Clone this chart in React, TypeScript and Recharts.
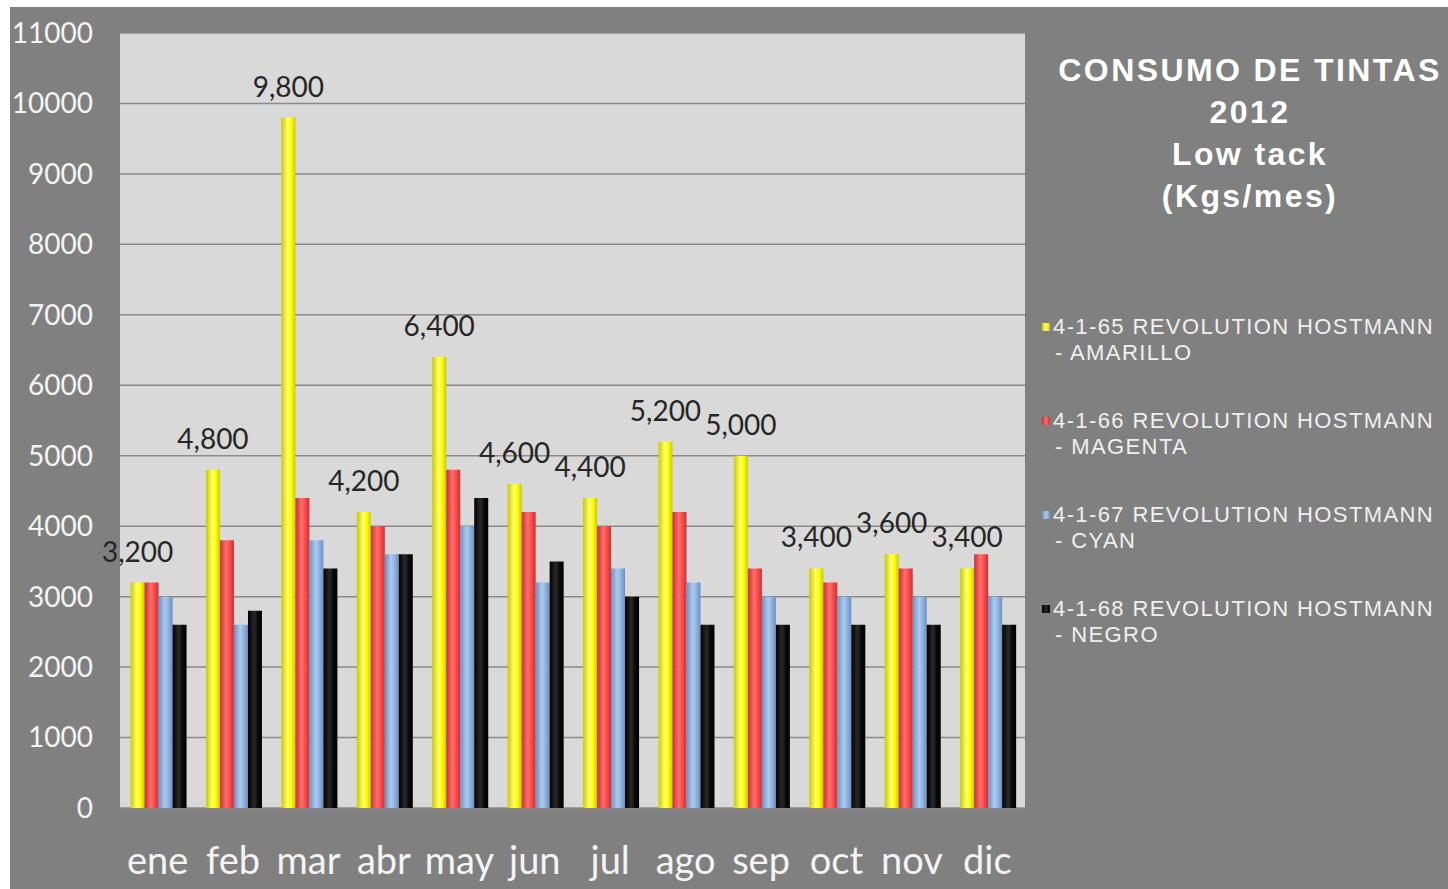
import { BarChart, Bar, XAxis, YAxis, CartesianGrid, LabelList } from 'recharts';

const months = ['ene', 'feb', 'mar', 'abr', 'may', 'jun', 'jul', 'ago', 'sep', 'oct', 'nov', 'dic'];
const amarillo = [3200, 4800, 9800, 4200, 6400, 4600, 4400, 5200, 5000, 3400, 3600, 3400];
const magenta = [3200, 3800, 4400, 4000, 4800, 4200, 4000, 4200, 3400, 3200, 3400, 3600];
const cyan = [3000, 2600, 3800, 3600, 4000, 3200, 3400, 3200, 3000, 3000, 3000, 3000];
const negro = [2600, 2800, 3400, 3600, 4400, 3500, 3000, 2600, 2600, 2600, 2600, 2600];
const yTicks = [0, 1000, 2000, 3000, 4000, 5000, 6000, 7000, 8000, 9000, 10000, 11000];

const titleLines = ['CONSUMO DE TINTAS', '2012', 'Low tack', '(Kgs/mes)'];

const series = [
  { key: 'amarillo', code: '4-1-65 REVOLUTION HOSTMANN', name: '- AMARILLO', edge: '#c9c900', mid: '#ffff00', hi: '#ffff66' },
  { key: 'magenta', code: '4-1-66 REVOLUTION HOSTMANN', name: '- MAGENTA', edge: '#c83232', mid: '#ff4848', hi: '#ff6e6e' },
  { key: 'cyan', code: '4-1-67 REVOLUTION HOSTMANN', name: '- CYAN', edge: '#6a90c0', mid: '#8db4e2', hi: '#aecaee' },
  { key: 'negro', code: '4-1-68 REVOLUTION HOSTMANN', name: '- NEGRO', edge: '#000000', mid: '#0a0a0a', hi: '#2a2a2a' },
];

const data = months.map((m, i) => ({
  month: m,
  amarillo: amarillo[i],
  magenta: magenta[i],
  cyan: cyan[i],
  negro: negro[i],
}));

const fmt = (v: number) => v.toLocaleString('en-US');

function SideLegend() {
  return (
    <div
      style={{
        position: 'absolute',
        left: 1032,
        top: 307,
        fontFamily: 'Liberation Sans',
        fontSize: 22,
        letterSpacing: 1.4,
        color: '#f0f0f0',
      }}
    >
      {series.map((s) => (
        <div key={s.key} style={{ height: 94, position: 'relative' }}>
          <div
            style={{
              position: 'absolute',
              left: 0,
              top: 9,
              width: 8,
              height: 8,
              background: `linear-gradient(90deg, ${s.edge}, ${s.hi}, ${s.edge})`,
            }}
          />
          <div style={{ paddingLeft: 11, lineHeight: '26px', whiteSpace: 'nowrap' }}>
            <div>{s.code}</div>
            <div style={{ paddingLeft: 2 }}>{s.name}</div>
          </div>
        </div>
      ))}
    </div>
  );
}

export default function App() {
  return (
    <div style={{ position: 'absolute', left: 10, top: 7, width: 1438, height: 882, background: '#808080' }}>
      <BarChart
        width={1438}
        height={882}
        data={data}
        margin={{ top: 26, right: 423, bottom: 0, left: 0 }}
        barCategoryGap="14%"
        barGap={0}
      >
        <defs>
          {series.map((s) => (
            <linearGradient key={s.key} id={`grad-${s.key}`} x1="0" y1="0" x2="1" y2="0">
              <stop offset="0%" stopColor={s.edge} />
              <stop offset="45%" stopColor={s.hi} />
              <stop offset="70%" stopColor={s.mid} />
              <stop offset="100%" stopColor={s.edge} />
            </linearGradient>
          ))}
        </defs>
        <CartesianGrid vertical={false} fill="#d9d9d9" stroke="#8a8a8a" strokeWidth={1.5} />
        <XAxis
          dataKey="month"
          height={81}
          axisLine={false}
          tickLine={false}
          tickSize={0}
          tickMargin={39}
          interval={0}
          tick={{ fill: '#f4f4f4', fontSize: 38, fontFamily: 'Lato' }}
        />
        <YAxis
          width={110}
          domain={[0, 11000]}
          ticks={yTicks}
          interval={0}
          axisLine={false}
          tickLine={false}
          tickSize={0}
          tickMargin={27}
          tick={{ fill: '#f4f4f4', fontSize: 28, fontFamily: 'Lato' }}
        />
        {series.map((s) => (
          <Bar key={s.key} dataKey={s.key} fill={`url(#grad-${s.key})`} isAnimationActive={false}>
            {s.key === 'amarillo' && (
              <LabelList
                dataKey="amarillo"
                position="top"
                offset={21}
                formatter={(v: any) => fmt(Number(v))}
                style={{ fill: '#262626', fontSize: 28, fontFamily: 'Lato' }}
              />
            )}
          </Bar>
        ))}
      </BarChart>
      <div
        style={{
          position: 'absolute',
          left: 1040,
          top: 42,
          width: 400,
          textAlign: 'center',
          fontFamily: 'Liberation Sans',
          fontWeight: 'bold',
          fontSize: 32,
          letterSpacing: 2.4,
          lineHeight: '42px',
          color: '#ffffff',
        }}
      >
        {titleLines.map((t) => (
          <div key={t}>{t}</div>
        ))}
      </div>
      <SideLegend />
    </div>
  );
}
